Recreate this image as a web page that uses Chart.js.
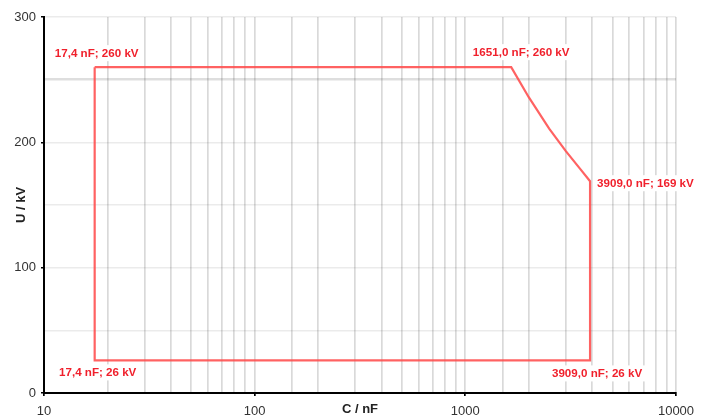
<!DOCTYPE html>
<html>
<head>
<meta charset="utf-8">
<script src="https://cdn.jsdelivr.net/npm/chart.js@4/dist/chart.umd.min.js"></script>
<style>
  html, body { margin: 0; padding: 0; background: #fff; }
  #wrap { width: 719px; height: 420px; position: relative; }
</style>
</head>
<body>
<div id="wrap"><canvas id="chart-cu"></canvas></div>
<script>
// ── data: test envelope, capacitance (nF) vs voltage (kV) ──
const capNF  = [17.4, 1651, 2000, 2500, 3000, 3500, 3909, 3909, 17.4, 17.4];
const voltKV = [260,  260,  236,  211,  193,  179,  169,  26,   26,   260];

// corner labels: index into the series above + text
const cornerIdx   = [0, 1, 6, 7, 8];
const cornerTexts = ['17,4 nF; 260 kV', '1651,0 nF; 260 kV', '3909,0 nF; 169 kV', '3909,0 nF; 26 kV', '17,4 nF; 26 kV'];

const xTicksMajor = [10, 100, 1000, 10000];
const yTicksMajor = [0, 100, 200, 300];

const FONT = '"Liberation Sans", Arial, Helvetica, sans-serif';
const RED  = 'rgba(255,70,70,0.85)';
const LABEL_RED = '#f0202c';

// label placement (dx, dy, align) per corner
const placement = [
  { dx: 2,  dy: -14, align: 'center' },
  { dx: 10, dy: -15, align: 'center' },
  { dx: 7,  dy: 2,   align: 'left' },
  { dx: 7,  dy: 13,  align: 'center' },
  { dx: 3,  dy: 12,  align: 'center' },
];

const cornerLabels = {
  id: 'cornerLabels',
  afterDatasetsDraw(chart) {
    const { ctx, scales: { x, y } } = chart;
    ctx.save();
    ctx.font = 'bold 11.6px ' + FONT;
    ctx.textBaseline = 'middle';
    cornerIdx.forEach((idx, i) => {
      const p = placement[i];
      const px = x.getPixelForValue(capNF[idx]) + p.dx;
      const py = y.getPixelForValue(voltKV[idx]) + p.dy;
      const w = ctx.measureText(cornerTexts[i]).width;
      const left = p.align === 'center' ? px - w / 2 : px;
      ctx.fillStyle = '#fff';
      ctx.fillRect(left - 4, py - 8, w + 8, 16);
      ctx.fillStyle = LABEL_RED;
      ctx.textAlign = 'left';
      ctx.fillText(cornerTexts[i], left, py + 0.5);
    });
    ctx.restore();
  }
};

const isPow10 = v => xTicksMajor.includes(Math.round(v));

new Chart(document.getElementById('chart-cu'), {
  type: 'scatter',
  data: {
    datasets: [{
      label: 'U(C)',
      data: capNF.map((c, i) => ({ x: c, y: voltKV[i] })),
      showLine: true,
      borderColor: RED,
      borderWidth: 2.2,
      pointRadius: 0,
      fill: false,
      tension: 0,
    }]
  },
  options: {
    responsive: true, maintainAspectRatio: false, animation: false,
    layout: { padding: { top: 17, right: 43, left: 0, bottom: 0 } },
    plugins: { legend: { display: false }, tooltip: { enabled: false } },
    scales: {
      x: {
        type: 'logarithmic', min: 10, max: 10000,
        afterFit: s => { s.height = 27; },
        border: { color: '#000', width: 2 },
        grid: {
          color: 'rgba(0,0,0,0.15)', lineWidth: 1.7,
          tickLength: 3,
          tickColor: c => isPow10(c.tick.value) ? '#000' : 'rgba(0,0,0,0)',
        },
        ticks: {
          autoSkip: false, maxRotation: 0, padding: 8,
          color: '#333', font: { family: FONT, size: 13 },
          callback: v => isPow10(v) ? String(Math.round(v)) : '',
        },
        title: {
          display: true, text: 'C / nF', color: '#222',
          font: { family: FONT, size: 13, weight: 'bold' },
          padding: { top: 3, bottom: 3 },
        },
      },
      y: {
        min: 0, max: 300,
        afterFit: s => { s.width = 44; },
        border: { color: '#000', width: 2 },
        grid: {
          color: c => c.tick.value === 250 ? 'rgba(0,0,0,0.13)' : 'rgba(0,0,0,0.08)',
          lineWidth: c => c.tick.value === 250 ? 2.5 : 1.5,
          tickLength: 3,
          tickColor: c => yTicksMajor.includes(c.tick.value) ? '#000' : 'rgba(0,0,0,0)',
        },
        ticks: {
          stepSize: 50, padding: 5,
          color: '#333', font: { family: FONT, size: 13 },
          callback: v => yTicksMajor.includes(v) ? String(v) : '',
        },
        title: {
          display: true, text: 'U / kV', color: '#222',
          font: { family: FONT, size: 13, weight: 'bold' },
          padding: { top: 14, bottom: 0 },
        },
      }
    }
  },
  plugins: [cornerLabels]
});
</script>
</body>
</html>
